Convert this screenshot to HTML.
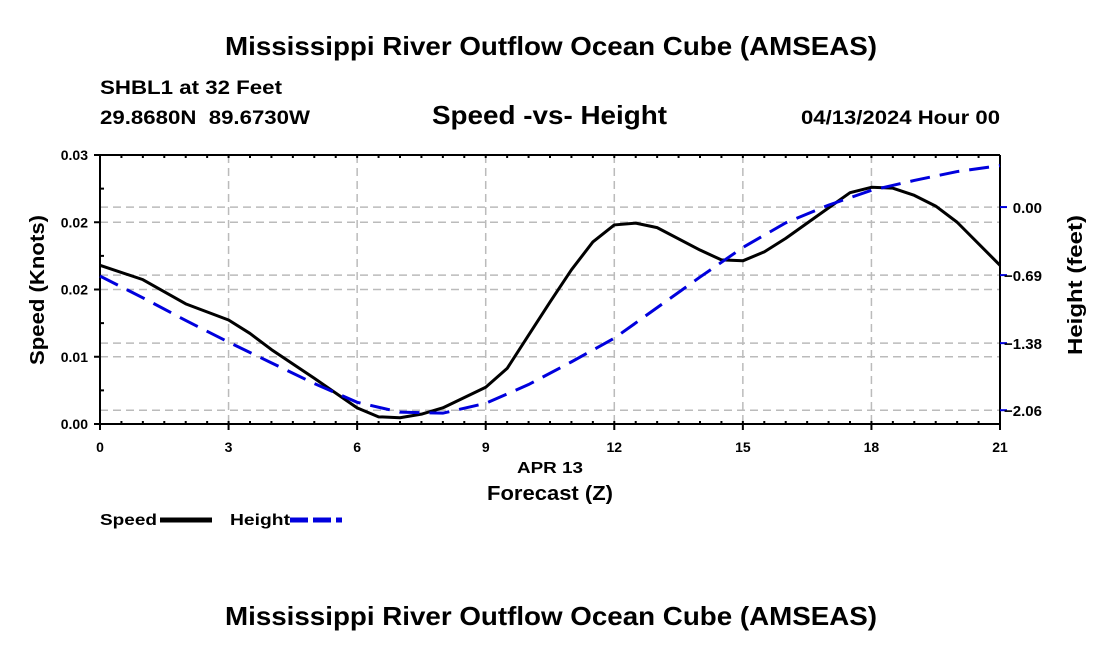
<!DOCTYPE html>
<html><head><meta charset="utf-8"><style>
body{margin:0;background:#fff;}
svg text{font-family:"Liberation Sans",sans-serif;font-weight:bold;fill:#000;}
</style></head><body>
<svg width="1100" height="650" viewBox="0 0 1100 650">
<text x="225" y="55" font-size="26" textLength="652" lengthAdjust="spacingAndGlyphs">Mississippi River Outflow Ocean Cube (AMSEAS)</text>
<text x="100" y="94" font-size="19" textLength="182" lengthAdjust="spacingAndGlyphs">SHBL1 at 32 Feet</text>
<text x="100" y="124" font-size="19" textLength="210" lengthAdjust="spacingAndGlyphs" xml:space="preserve">29.8680N  89.6730W</text>
<text x="432" y="124" font-size="26" textLength="235" lengthAdjust="spacingAndGlyphs">Speed -vs- Height</text>
<text x="801" y="124" font-size="19" textLength="199" lengthAdjust="spacingAndGlyphs">04/13/2024 Hour 00</text>
<g id="grid"></g>
<g id="axes"></g>
<g id="series"></g>
<text x="517" y="473" font-size="16" textLength="66" lengthAdjust="spacingAndGlyphs">APR 13</text>
<text x="487" y="500" font-size="20" textLength="126" lengthAdjust="spacingAndGlyphs">Forecast (Z)</text>
<text transform="translate(44,365) rotate(-90)" font-size="20" textLength="150" lengthAdjust="spacingAndGlyphs">Speed (Knots)</text>
<text transform="translate(1082,355) rotate(-90)" font-size="20" textLength="140" lengthAdjust="spacingAndGlyphs">Height (feet)</text>
<g>
<text x="100" y="525" font-size="16" textLength="57" lengthAdjust="spacingAndGlyphs">Speed</text>
<line x1="160" y1="520" x2="212" y2="520" stroke="#000" stroke-width="5"/>
</g>
<g>
<text x="230" y="525" font-size="16" textLength="60" lengthAdjust="spacingAndGlyphs">Height</text>
<line x1="290" y1="520" x2="342" y2="520" stroke="#0000dd" stroke-width="5" stroke-dasharray="18,5"/>
</g>
<text x="225" y="625" font-size="26" textLength="652" lengthAdjust="spacingAndGlyphs">Mississippi River Outflow Ocean Cube (AMSEAS)</text>
</svg>
<script>
const speedHours=[0,1,2,3,3.5,4,5,6,6.5,7,7.5,8,9,9.5,10,10.5,11,11.5,12,12.5,13,14,14.5,15,15.5,16,17,17.5,18,18.5,19,19.5,20,21];
const speedValues=[0.0177,0.0161,0.0134,0.0116,0.0101,0.0083,0.0051,0.0018,0.0008,0.0007,0.0011,0.0018,0.0041,0.0062,0.0099,0.0136,0.0172,0.0203,0.0222,0.0224,0.0219,0.0194,0.0183,0.0182,0.0192,0.0207,0.0241,0.0258,0.0264,0.0263,0.0255,0.0243,0.0225,0.0177];
const heightHours=[0,1,2,3,4,5,6,7,8,9,10,11,12,13,14,15,16,17,18,19,20,21];
const heightValues=[-0.70,-0.92,-1.15,-1.37,-1.58,-1.79,-1.98,-2.08,-2.09,-1.99,-1.80,-1.57,-1.33,-1.02,-0.71,-0.41,-0.16,0.02,0.17,0.27,0.36,0.42];
const xTicks=[0,3,6,9,12,15,18,21];
const leftTicks=[0,0.0075,0.015,0.0225,0.03];
const leftTickLabels=["0.00","0.01","0.02","0.02","0.03"];
const rightTicks=[0,-0.69,-1.38,-2.06];
const rightTickLabels=["0.00","\u22120.69","\u22121.38","\u22122.06"];
const X0=100,X1=1000,Y0=424,Y1=155;
const xs=h=>X0+(h/21)*(X1-X0);
const ys=v=>Y0-(v/0.03)*(Y0-Y1);
const yh=v=>Y0-((v+2.20)/(0.528+2.20))*(Y0-Y1);
const NS="http://www.w3.org/2000/svg";
function mk(parent,tag,attrs){const e=document.createElementNS(NS,tag);for(const k in attrs)e.setAttribute(k,attrs[k]);document.getElementById(parent).appendChild(e);return e;}
xTicks.forEach(t=>{if(t>0&&t<21){const l=mk('grid','line',{x1:xs(t),x2:xs(t),y1:Y1,y2:Y0,stroke:'#bbb','stroke-width':1.5,'stroke-dasharray':'8,5'});

}});
leftTicks.forEach(t=>{if(t>0&&t<0.03){const l=mk('grid','line',{x1:X0,x2:X1,y1:ys(t),y2:ys(t),stroke:'#bbb','stroke-width':1.5,'stroke-dasharray':'8,5'});

}});
rightTicks.forEach(t=>{const l=mk('grid','line',{x1:X0,x2:X1,y1:yh(t),y2:yh(t),stroke:'#bbb','stroke-width':1.5,'stroke-dasharray':'8,5'});

});
[[X0,Y1,X0,Y0],[X1,Y1,X1,Y0],[X0,Y0,X1,Y0],[X0,Y1,X1,Y1]].forEach(a=>{const l=mk('axes','line',{x1:a[0],y1:a[1],x2:a[2],y2:a[3],stroke:'#000','stroke-width':2});

});
for(let h=0;h<=21;h+=0.5){const x=xs(h);mk('axes','line',{x1:x,x2:x,y1:Y1,y2:Y1+3,stroke:'#000','stroke-width':2});mk('axes','line',{x1:x,x2:x,y1:Y0,y2:Y0-3,stroke:'#000','stroke-width':2});}
xTicks.forEach(t=>{const tx=mk('axes','text',{x:xs(t),y:452,'text-anchor':'middle','font-size':14});tx.textContent=t;


mk('axes','line',{x1:xs(t),x2:xs(t),y1:Y0,y2:Y0+6,stroke:'#000','stroke-width':2});});
leftTicks.forEach((t,i)=>{mk('axes','line',{x1:X0-6,x2:X0,y1:ys(t),y2:ys(t),stroke:'#000','stroke-width':2});
const tx=mk('axes','text',{x:X0-12,y:ys(t)+5,'text-anchor':'end','font-size':14});tx.textContent=leftTickLabels[i];

});
for(let v=0.00375;v<0.03;v+=0.0075){mk('axes','line',{x1:X0,x2:X0+4,y1:ys(v),y2:ys(v),stroke:'#000','stroke-width':2});}
rightTicks.forEach((t,i)=>{mk('axes','line',{x1:X1,x2:X1+7,y1:yh(t),y2:yh(t),stroke:'#0000dd','stroke-width':2});
const tx=mk('axes','text',{x:1042,y:yh(t)+6,'text-anchor':'end','font-size':15});tx.textContent=rightTickLabels[i];

});
const sp=mk('series','polyline',{points:speedHours.map((h,i)=>xs(h)+','+ys(speedValues[i])).join(' '),fill:'none',stroke:'#000','stroke-width':3,'stroke-linejoin':'round'});


const hp=mk('series','polyline',{points:heightHours.map((h,i)=>xs(h)+','+yh(heightValues[i])).join(' '),fill:'none',stroke:'#0000dd','stroke-width':3,'stroke-dasharray':'20,10'});


</script>
</body></html>
